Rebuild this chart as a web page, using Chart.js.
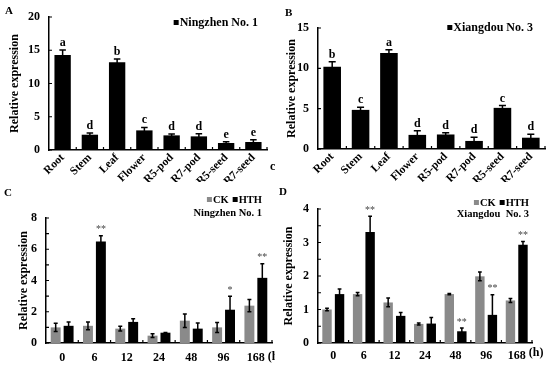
<!DOCTYPE html>
<html>
<head>
<meta charset="utf-8">
<script src="https://cdn.jsdelivr.net/npm/chart.js@4.4.1/dist/chart.umd.min.js"></script>
<style>
  body { margin: 0; background: #fff; }
  #wrap { position: relative; width: 550px; height: 365px; }
  canvas { position: absolute; }
  .top { z-index: 2; }
</style>
</head>
<body>
<div id="wrap">
  <canvas id="chartA" class="top" width="275" height="188" style="left:0;top:0"></canvas>
  <canvas id="chartB" class="top" width="275" height="188" style="left:275px;top:0"></canvas>
  <canvas id="chartC" width="275" height="183" style="left:0;top:182px"></canvas>
  <canvas id="chartD" width="275" height="183" style="left:275px;top:182px"></canvas>
</div>
<script>
// data
const tissueLabels = ['Root', 'Stem', 'Leaf', 'Flower', 'R5-pod', 'R7-pod', 'R5-seed', 'R7-seed'];
const ningzhenTissue = [14.3, 2.3, 13.2, 2.95, 2.2, 2.05, 1.05, 1.2];
const ningzhenTissueErr = [0.75, 0.25, 0.5, 0.45, 0.2, 0.4, 0.2, 0.35];
const ningzhenTissueSig = ['a', 'd', 'b', 'c', 'd', 'd', 'e', 'e'];
const xiangdouTissue = [10.2, 4.85, 11.9, 1.75, 1.8, 1.0, 5.1, 1.4];
const xiangdouTissueErr = [0.63, 0.33, 0.41, 0.5, 0.2, 0.45, 0.3, 0.42];
const xiangdouTissueSig = ['b', 'c', 'a', 'd', 'd', 'd', 'c', 'd'];

const hourLabels = ['0', '6', '12', '24', '48', '96', '168'];
const ningzhenCK = [1.0, 1.1, 0.92, 0.47, 1.43, 1.0, 2.39];
const ningzhenCKErr = [0.27, 0.25, 0.15, 0.12, 0.43, 0.32, 0.39];
const ningzhenHTH = [1.1, 6.5, 1.35, 0.66, 0.92, 2.13, 4.17];
const ningzhenHTHErr = [0.24, 0.37, 0.2, 0.02, 0.36, 0.86, 0.91];
const ningzhenHTHSig = ['', '**', '', '', '', '*', '**'];
const xiangdouCK = [1.0, 1.46, 1.21, 0.57, 1.46, 1.99, 1.27];
const xiangdouCKErr = [0.04, 0.05, 0.13, 0.03, 0.02, 0.13, 0.06];
const xiangdouHTH = [1.46, 3.31, 0.81, 0.58, 0.35, 0.84, 2.93];
const xiangdouHTHErr = [0.15, 0.47, 0.1, 0.18, 0.1, 0.6, 0.1];
const xiangdouHTHSig = ['', '**', '', '', '**', '**', '**'];

const serif = "'Liberation Serif', 'Times New Roman', serif";
Chart.defaults.font.family = serif;
Chart.defaults.font.weight = 'bold';
Chart.defaults.color = '#000';
const grey = '#8a8a8a';

// error bars, letters/stars, inward ticks and panel text
const decoPlugin = {
  id: 'deco',
  afterDatasetsDraw(chart, args, opts) {
    const ctx = chart.ctx;
    const x = chart.scales.x, y = chart.scales.y;
    const area = chart.chartArea;
    ctx.save();
    chart.data.datasets.forEach((ds, di) => {
      chart.getDatasetMeta(di).data.forEach((bar, i) => {
        const v = ds.data[i], e = ds.errors[i];
        const yt = y.getPixelForValue(v + e), yb = y.getPixelForValue(v - e);
        const cap = bar.width * 0.4;
        ctx.strokeStyle = '#000';
        ctx.lineWidth = 1.5;
        ctx.beginPath();
        ctx.moveTo(bar.x, yt); ctx.lineTo(bar.x, yb);
        ctx.moveTo(bar.x - cap / 2, yt); ctx.lineTo(bar.x + cap / 2, yt);
        ctx.moveTo(bar.x - cap / 2, yb); ctx.lineTo(bar.x + cap / 2, yb);
        ctx.stroke();
        const s = ds.marks && ds.marks[i];
        if (s) {
          ctx.font = opts.markFont;
          ctx.fillStyle = opts.markColor;
          ctx.textAlign = 'center';
          ctx.textBaseline = 'bottom';
          ctx.fillText(s, bar.x, yt - 1);
        }
      });
    });

    // inward tick marks
    ctx.strokeStyle = '#000';
    ctx.lineWidth = 1.2;
    ctx.beginPath();
    const n = chart.data.labels.length;
    for (let i = 1; i <= n; i++) {
      const px = (x.getPixelForTick(i - 1) + (i < n ? x.getPixelForTick(i) : 2 * x.getPixelForTick(i - 1) - x.getPixelForTick(i - 2))) / 2;
      ctx.moveTo(px, area.bottom); ctx.lineTo(px, area.bottom - 3);
    }
    const step = opts.yStep / (opts.minor || 1);
    for (let v = 0; v <= y.max + 1e-9; v += step) {
      const py = y.getPixelForValue(v);
      ctx.moveTo(area.left, py); ctx.lineTo(area.left + 3, py);
    }
    ctx.stroke();

    // free text: panel letter, legends
    (opts.texts || []).forEach(t => {
      ctx.font = 'bold ' + t.size + 'px ' + serif;
      ctx.fillStyle = '#000';
      ctx.textAlign = t.align || 'left';
      ctx.textBaseline = 'middle';
      ctx.fillText(t.text, t.x, t.y);
    });
    (opts.keys || []).forEach(k => {
      ctx.font = 'bold ' + k.size + 'px ' + serif;
      ctx.textBaseline = 'middle';
      ctx.textAlign = 'right';
      let right = k.x;
      for (let j = k.items.length - 1; j >= 0; j--) {
        const it = k.items[j];
        ctx.fillStyle = '#000';
        ctx.fillText(it.label, right, k.y);
        const w = ctx.measureText(it.label).width;
        ctx.fillStyle = it.color;
        ctx.fillRect(right - w - 6, k.y - 3, 5, 5);
        right = right - w - 10;
      }
    });
    if (opts.unit) {
      const last = x.getPixelForTick(n - 1);
      ctx.font = 'bold 12px ' + serif;
      const lw = ctx.measureText(chart.data.labels[n - 1]).width;
      ctx.fillStyle = '#000';
      ctx.textAlign = 'left';
      ctx.textBaseline = 'middle';
      ctx.fillText(opts.unit, last + lw / 2 + 3, opts.unitY);
    }
    ctx.restore();
  }
};

function makeChart(id, cfg) {
  const datasets = cfg.series.map(s => ({
    label: s.label,
    data: s.data,
    errors: s.errors,
    marks: s.marks,
    backgroundColor: s.color,
    borderWidth: 0,
    barPercentage: cfg.barPct,
    categoryPercentage: cfg.catPct
  }));
  return new Chart(document.getElementById(id), {
    type: 'bar',
    data: { labels: cfg.labels, datasets: datasets },
    options: {
      responsive: false,
      animation: false,
      layout: { padding: cfg.padding },
      plugins: {
        legend: { display: false },
        tooltip: { enabled: false },
        deco: cfg.deco
      },
      scales: {
        x: {
          grid: { display: false, drawTicks: false },
          border: { color: '#000', width: 1.5 },
          ticks: {
            font: { size: cfg.xFont, weight: 'bold' },
            minRotation: cfg.rot, maxRotation: cfg.rot,
            padding: cfg.xPad, autoSkip: false
          },
          afterFit(s) { s.height = cfg.xHeight; }
        },
        y: {
          min: 0, max: cfg.yMax,
          grid: { display: false, drawTicks: false },
          border: { color: '#000', width: 1.5 },
          ticks: { stepSize: cfg.yStep, font: { size: 12, weight: 'bold' }, padding: 9 },
          title: {
            display: true, text: 'Relative expression',
            font: { size: 12, weight: 'bold' },
            padding: { top: cfg.titlePad, bottom: 0 }
          },
          afterFit(s) { s.width = cfg.yWidth; }
        }
      }
    },
    plugins: [decoPlugin]
  });
}

makeChart('chartA', {
  labels: tissueLabels,
  series: [{ label: 'Ningzhen No. 1', data: ningzhenTissue, errors: ningzhenTissueErr, marks: ningzhenTissueSig, color: '#000' }],
  barPct: 0.6, catPct: 1, yMax: 20, yStep: 5, rot: 45, xFont: 11.5, xPad: 1, xHeight: 32, yWidth: 49, titlePad: 8,
  padding: { left: 0, right: 8, top: 17, bottom: 6 },
  deco: {
    markFont: 'bold 12px ' + serif, markColor: '#000', yStep: 5,
    texts: [{ text: 'A', x: 5, y: 11, size: 11 }, { text: 'c', x: 270, y: 167, size: 12 }],
    keys: [{ x: 258, y: 23, size: 12, items: [{ label: 'Ningzhen No. 1', color: '#000' }] }]
  }
});

makeChart('chartB', {
  labels: tissueLabels,
  series: [{ label: 'Xiangdou No. 3', data: xiangdouTissue, errors: xiangdouTissueErr, marks: xiangdouTissueSig, color: '#000' }],
  barPct: 0.62, catPct: 1, yMax: 15, yStep: 5, rot: 45, xFont: 11.5, xPad: 1, xHeight: 33, yWidth: 43, titlePad: 10,
  padding: { left: 0, right: 5, top: 28, bottom: 6 },
  deco: {
    markFont: 'bold 12px ' + serif, markColor: '#000', yStep: 5,
    texts: [{ text: 'B', x: 10, y: 13, size: 11 }],
    keys: [{ x: 258, y: 28, size: 12, items: [{ label: 'Xiangdou No. 3', color: '#000' }] }]
  }
});

makeChart('chartC', {
  labels: hourLabels,
  series: [
    { label: 'CK', data: ningzhenCK, errors: ningzhenCKErr, color: grey },
    { label: 'HTH', data: ningzhenHTH, errors: ningzhenHTHErr, marks: ningzhenHTHSig, color: '#000' }
  ],
  barPct: 0.77, catPct: 0.8, yMax: 8, yStep: 2, rot: 0, xFont: 12, xPad: 8, xHeight: 22, yWidth: 46, titlePad: 17,
  padding: { left: 0, right: 3, top: 36, bottom: 0 },
  deco: {
    markFont: '10px ' + serif, markColor: '#444', yStep: 2, minor: 2, unit: '(h)', unitY: 175,
    texts: [
      { text: 'C', x: 4, y: 11, size: 11 },
      { text: 'Ningzhen No. 1', x: 262, y: 31, size: 10.5, align: 'right' }
    ],
    keys: [{ x: 262, y: 18, size: 10.5, items: [{ label: 'CK', color: grey }, { label: 'HTH', color: '#000' }] }]
  }
});

makeChart('chartD', {
  labels: hourLabels,
  series: [
    { label: 'CK', data: xiangdouCK, errors: xiangdouCKErr, color: grey },
    { label: 'HTH', data: xiangdouHTH, errors: xiangdouHTHErr, marks: xiangdouHTHSig, color: '#000' }
  ],
  barPct: 0.75, catPct: 0.82, yMax: 4, yStep: 1, rot: 0, xFont: 12, xPad: 6, xHeight: 22, yWidth: 43, titlePad: 7,
  padding: { left: 0, right: 18, top: 27, bottom: 0 },
  deco: {
    markFont: '10px ' + serif, markColor: '#444', yStep: 1, minor: 2, unit: '(h)', unitY: 171,
    texts: [
      { text: 'D', x: 4, y: 10, size: 11 },
      { text: 'Xiangdou  No. 3', x: 254, y: 32, size: 10.5, align: 'right' }
    ],
    keys: [{ x: 254, y: 21, size: 10.5, items: [{ label: 'CK', color: grey }, { label: 'HTH', color: '#000' }] }]
  }
});
</script>
</body>
</html>
